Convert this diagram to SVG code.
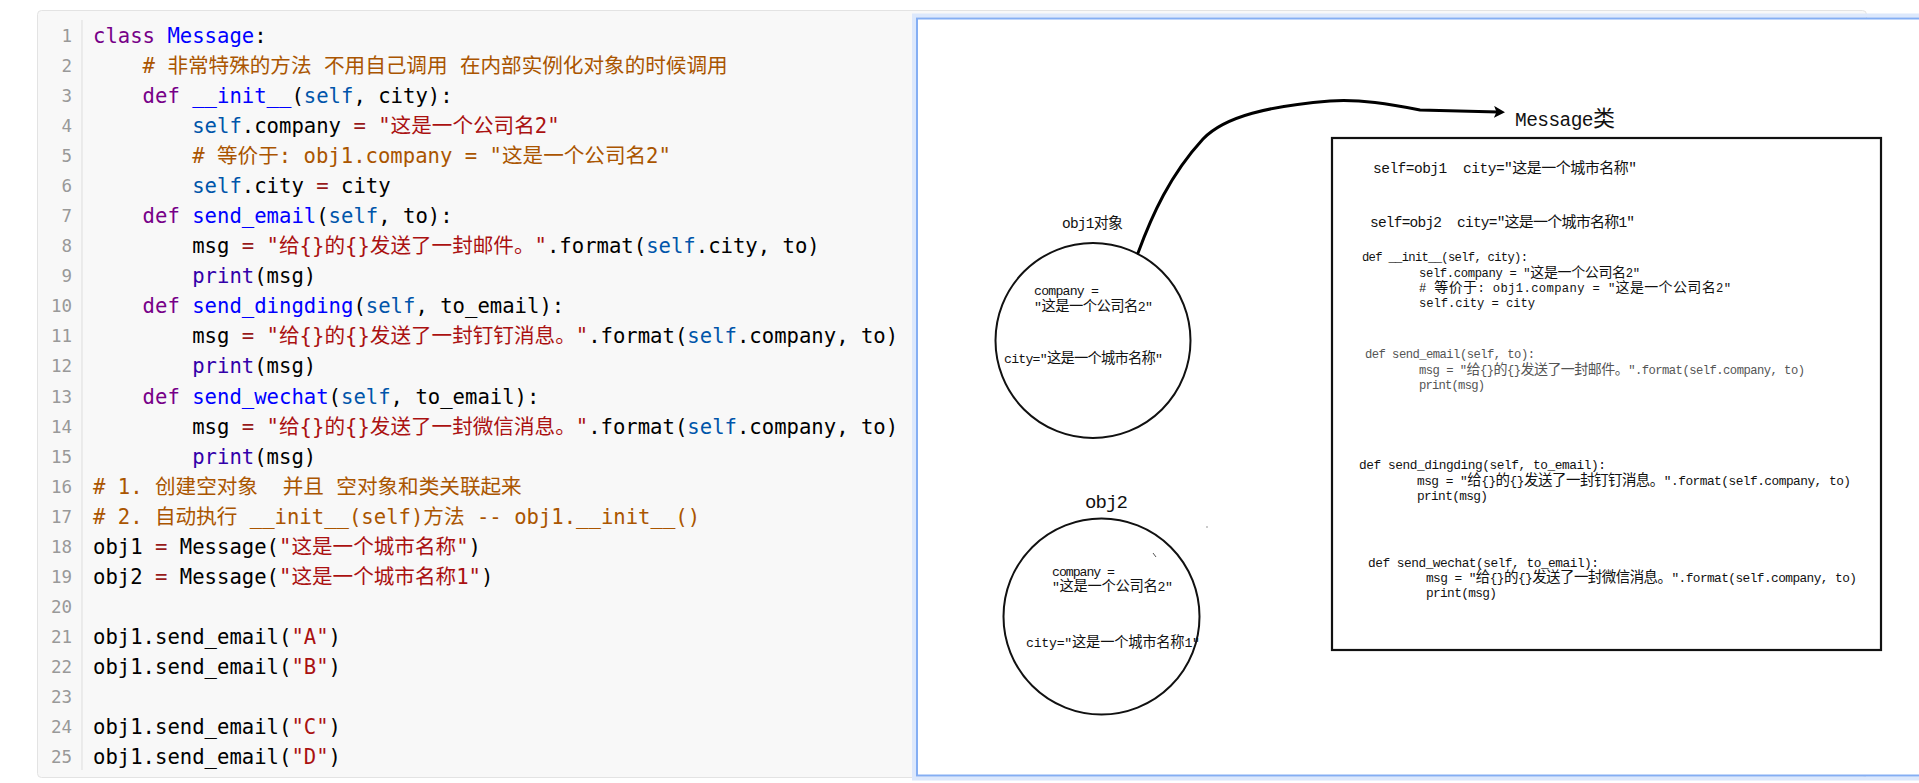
<svg xmlns="http://www.w3.org/2000/svg" width="1919" height="783" viewBox="0 0 1919 783">
<defs>
<marker id="ah" markerUnits="userSpaceOnUse" markerWidth="14" markerHeight="14" refX="4" refY="6" orient="auto">
<path d="M0,0 L11,6 L0,12 L2.5,6 Z" fill="#000"/>
</marker>
</defs>
<style>
.c{font-family:'DejaVu Sans Mono','Noto Sans CJK SC',monospace;font-size:20.6px;fill:#000}
.ln{font-family:'DejaVu Sans Mono',monospace;font-size:17.5px;fill:#999;text-anchor:end}
.kw{fill:#708}.df{fill:#00f}.v2{fill:#05a}.bi{fill:#30a}.st{fill:#a11}.cm{fill:#a50}.op{fill:#981a1a}
.h{font-family:'Liberation Mono','Noto Sans CJK SC',monospace;fill:#111}
.ha{font-size:14.5px}.ka{font-size:15px}
.hd{font-size:12.2px}.kd{font-size:14px}
.he{font-size:12.8px}.ke{font-size:14.5px}
.hc{font-size:13.2px}.kc{font-size:14.3px}
.gray{fill:#555}
.ring{fill:none;stroke:#111;stroke-width:2}
</style>

<g id="code-panel">
<rect x="37.5" y="10.5" width="1829" height="767" rx="4" fill="#f8f8f8" stroke="#e3e3e3"/>
<line x1="82" y1="20" x2="82" y2="770" stroke="#ddd"/>
<g class="ln">
<text x="72" y="42">1</text><text x="72" y="72">2</text><text x="72" y="102.1">3</text><text x="72" y="132.1">4</text><text x="72" y="162.2">5</text>
<text x="72" y="192.2">6</text><text x="72" y="222.2">7</text><text x="72" y="252.3">8</text><text x="72" y="282.3">9</text><text x="72" y="312.4">10</text>
<text x="72" y="342.4">11</text><text x="72" y="372.4">12</text><text x="72" y="402.5">13</text><text x="72" y="432.5">14</text><text x="72" y="462.6">15</text>
<text x="72" y="492.6">16</text><text x="72" y="522.6">17</text><text x="72" y="552.7">18</text><text x="72" y="582.7">19</text><text x="72" y="612.8">20</text>
<text x="72" y="642.8">21</text><text x="72" y="672.8">22</text><text x="72" y="702.9">23</text><text x="72" y="732.9">24</text><text x="72" y="763">25</text>
</g>
<g class="c">
<text x="93" y="43"><tspan class="kw">class</tspan> <tspan class="df">Message</tspan>:</text>
<text x="142.6" y="73"><tspan class="cm"># 非常特殊的方法 不用自己调用 在内部实例化对象的时候调用</tspan></text>
<text x="142.6" y="103.1"><tspan class="kw">def</tspan> <tspan class="df">__init__</tspan>(<tspan class="v2">self</tspan>, city):</text>
<text x="192.2" y="133.1"><tspan class="v2">self</tspan>.company <tspan class="op">=</tspan> <tspan class="st">"这是一个公司名2"</tspan></text>
<text x="192.2" y="163.2"><tspan class="cm"># 等价于: obj1.company = "这是一个公司名2"</tspan></text>
<text x="192.2" y="193.2"><tspan class="v2">self</tspan>.city <tspan class="op">=</tspan> city</text>
<text x="142.6" y="223.2"><tspan class="kw">def</tspan> <tspan class="df">send_email</tspan>(<tspan class="v2">self</tspan>, to):</text>
<text x="192.2" y="253.3">msg <tspan class="op">=</tspan> <tspan class="st">"给{}的{}发送了一封邮件。"</tspan>.format(<tspan class="v2">self</tspan>.city, to)</text>
<text x="192.2" y="283.3"><tspan class="bi">print</tspan>(msg)</text>
<text x="142.6" y="313.4"><tspan class="kw">def</tspan> <tspan class="df">send_dingding</tspan>(<tspan class="v2">self</tspan>, to_email):</text>
<text x="192.2" y="343.4">msg <tspan class="op">=</tspan> <tspan class="st">"给{}的{}发送了一封钉钉消息。"</tspan>.format(<tspan class="v2">self</tspan>.company, to)</text>
<text x="192.2" y="373.4"><tspan class="bi">print</tspan>(msg)</text>
<text x="142.6" y="403.5"><tspan class="kw">def</tspan> <tspan class="df">send_wechat</tspan>(<tspan class="v2">self</tspan>, to_email):</text>
<text x="192.2" y="433.5">msg <tspan class="op">=</tspan> <tspan class="st">"给{}的{}发送了一封微信消息。"</tspan>.format(<tspan class="v2">self</tspan>.company, to)</text>
<text x="192.2" y="463.6"><tspan class="bi">print</tspan>(msg)</text>
<text x="93" y="493.6" xml:space="preserve"><tspan class="cm"># 1. 创建空对象  并且 空对象和类关联起来</tspan></text>
<text x="93" y="523.6"><tspan class="cm"># 2. 自动执行 __init__(self)方法 -- obj1.__init__()</tspan></text>
<text x="93" y="553.7">obj1 <tspan class="op">=</tspan> Message(<tspan class="st">"这是一个城市名称"</tspan>)</text>
<text x="93" y="583.7">obj2 <tspan class="op">=</tspan> Message(<tspan class="st">"这是一个城市名称1"</tspan>)</text>
<text x="93" y="643.8">obj1.send_email(<tspan class="st">"A"</tspan>)</text>
<text x="93" y="673.8">obj1.send_email(<tspan class="st">"B"</tspan>)</text>
<text x="93" y="733.9">obj1.send_email(<tspan class="st">"C"</tspan>)</text>
<text x="93" y="764">obj1.send_email(<tspan class="st">"D"</tspan>)</text>
</g>
</g>

<g id="image-panel">
<rect x="914" y="15.5" width="1010" height="763" fill="none" stroke="#dce8fc" stroke-width="4"/>
<rect x="917" y="18.5" width="1005" height="757" fill="#fff" stroke="#84aef3" stroke-width="2"/>
<line x1="1153" y1="553" x2="1156" y2="557" stroke="#555" stroke-width="1"/>
<circle cx="1207" cy="527" r="0.8" fill="#888"/>
</g>

<g id="obj1">
<text class="h ha" x="1062" y="228" textLength="61">obj1<tspan class="ka">对象</tspan></text>
<circle class="ring" cx="1093" cy="340.5" r="97.5"/>
<text class="h hc" x="1034" y="295" textLength="65">company =</text>
<text class="h hc" x="1034" y="311" textLength="119">"<tspan class="kc">这是一个公司名</tspan>2"</text>
<text class="h hc" x="1004" y="363" textLength="159">city="<tspan class="kc">这是一个城市名称</tspan>"</text>
</g>

<g id="obj2">
<text class="h" x="1085" y="508" style="font-size:19px" textLength="43">obj2</text>
<circle class="ring" cx="1101.5" cy="616.5" r="98"/>
<text class="h hc" x="1052" y="576" textLength="63">company =</text>
<text class="h hc" x="1052" y="591" textLength="121">"<tspan class="kc">这是一个公司名</tspan>2"</text>
<text class="h hc" x="1026" y="647" textLength="174">city="<tspan class="kc">这是一个城市名称</tspan>1"</text>
</g>

<g id="message-class">
<text class="h" x="1515" y="126" style="font-size:19.5px" textLength="100">Message<tspan style="font-size:22px">类</tspan></text>
<rect x="1332" y="138" width="549" height="512" fill="none" stroke="#111" stroke-width="2.2"/>
<text class="h ha" x="1373" y="173" textLength="264" xml:space="preserve">self=obj1  city="<tspan class="ka">这是一个城市名称</tspan>"</text>
<text class="h ha" x="1370" y="227" textLength="265" xml:space="preserve">self=obj2  city="<tspan class="ka">这是一个城市名称</tspan>1"</text>
<text class="h hd" x="1362" y="261" textLength="166">def __init__(self, city):</text>
<text class="h hd" x="1419" y="276.5" textLength="221">self.company = "<tspan class="kd">这是一个公司名</tspan>2"</text>
<text class="h hd" x="1419" y="292" textLength="312"># <tspan class="kd">等价于</tspan>: obj1.company = "<tspan class="kd">这是一个公司名</tspan>2"</text>
<text class="h hd" x="1419" y="307" textLength="116">self.city = city</text>
<text class="h hd gray" x="1365" y="358" textLength="170">def send_email(self, to):</text>
<text class="h hd gray" x="1419" y="374" textLength="386">msg = "<tspan class="kd">给</tspan>{}<tspan class="kd">的</tspan>{}<tspan class="kd">发送了一封邮件。</tspan>".format(self.company, to)</text>
<text class="h hd gray" x="1419" y="389" textLength="66">print(msg)</text>
<text class="h he" x="1359" y="469" textLength="247">def send_dingding(self, to_email):</text>
<text class="h he" x="1417" y="485" textLength="434">msg = "<tspan class="ke">给</tspan>{}<tspan class="ke">的</tspan>{}<tspan class="ke">发送了一封钉钉消息。</tspan>".format(self.company, to)</text>
<text class="h he" x="1417" y="500" textLength="71">print(msg)</text>
<text class="h he" x="1368" y="567" textLength="231">def send_wechat(self, to_email):</text>
<text class="h he" x="1426" y="582" textLength="431">msg = "<tspan class="ke">给</tspan>{}<tspan class="ke">的</tspan>{}<tspan class="ke">发送了一封微信消息。</tspan>".format(self.company, to)</text>
<text class="h he" x="1426" y="597" textLength="71">print(msg)</text>
</g>

<g id="connectors">
<path d="M1138,253 C1152,215 1170,175 1203,139 C1225,116 1270,106 1330,101 C1360,99 1390,104 1420,110 L1498,112" fill="none" stroke="#000" stroke-width="3" stroke-linecap="round" marker-end="url(#ah)"/>
</g>
</svg>
